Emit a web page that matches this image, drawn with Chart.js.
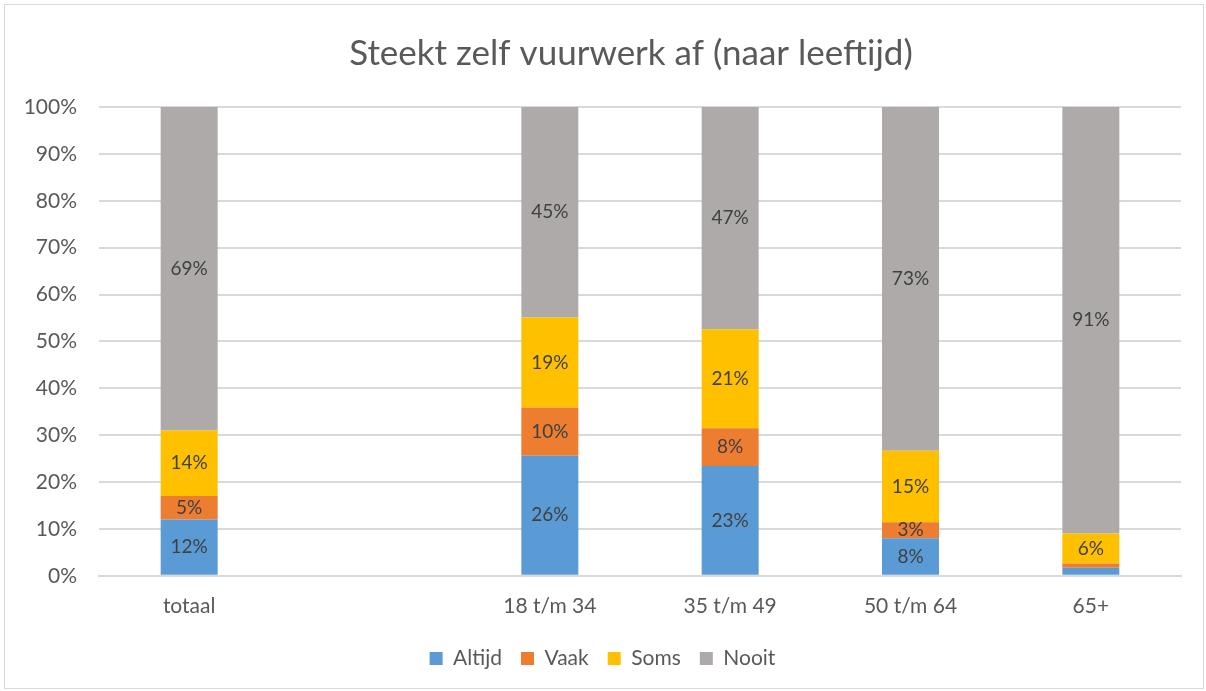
<!DOCTYPE html>
<html>
<head>
<meta charset="utf-8">
<script src="https://cdn.jsdelivr.net/npm/chart.js@4/dist/chart.umd.min.js"></script>
<style>
  body { margin: 0; background: #fff; }
  #box { position: absolute; left: 4px; top: 4px; width: 1198px; height: 683px; border: 1px solid #d9d9d9; }
</style>
</head>
<body>
<div id="box"><canvas id="myChart" width="1198" height="683"></canvas></div>
<script>
document.addEventListener("DOMContentLoaded", function(event) {

var title = "Steekt zelf vuurwerk af (naar leeftijd)";
var categories = ["totaal", "", "18 t/m 34", "35 t/m 49", "50 t/m 64", "65+"];
var altijd = [12, null, 25.6, 23.4, 8, 1.7];
var vaak   = [5, null, 10.3, 8.1, 3.4, 0.9];
var soms   = [14, null, 19.2, 21.1, 15.3, 6.4];
var nooit  = [69, null, 44.9, 47.4, 73.3, 91];
var yTicks = [0, 10, 20, 30, 40, 50, 60, 70, 80, 90, 100];

var font = "Lato";
var textColor = "#595959";

// draws the rounded value in the middle of each segment
var segmentLabels = {
    id: "segmentLabels",
    afterDatasetsDraw: function(chart) {
        var ctx = chart.ctx;
        ctx.save();
        ctx.font = "19px " + font;
        ctx.fillStyle = "#404040";
        ctx.textAlign = "center";
        ctx.textBaseline = "middle";
        chart.data.datasets.forEach(function(ds, i) {
            var meta = chart.getDatasetMeta(i);
            meta.data.forEach(function(bar, j) {
                var v = ds.data[j];
                if (v == null || v < 2.5) return;
                ctx.fillText(Math.round(v) + "%", bar.x, (bar.y + bar.base) / 2);
            });
        });
        ctx.restore();
    }
};

// title, sat a little left of the plot centre like the original
var chartTitle = {
    id: "chartTitle",
    afterDraw: function(chart) {
        var ctx = chart.ctx;
        var a = chart.chartArea;
        ctx.save();
        ctx.font = "35px " + font;
        ctx.fillStyle = textColor;
        ctx.textAlign = "center";
        ctx.textBaseline = "middle";
        ctx.fillText(title, (a.left + a.right) / 2 - 9, 49);
        ctx.restore();
    }
};

var ctx = document.getElementById("myChart");

var myChart = new Chart(ctx, {
    type: "bar",
    data: {
        labels: categories,
        datasets: [
            { label: "Altijd", data: altijd, backgroundColor: "#5B9BD5" },
            { label: "Vaak", data: vaak, backgroundColor: "#ED7D31" },
            { label: "Soms", data: soms, backgroundColor: "#FFC000" },
            { label: "Nooit", data: nooit, backgroundColor: "#AEAAAA" }
        ]
    },
    options: {
        responsive: false,
        animation: false,
        layout: { padding: { top: 102, left: 19, right: 22, bottom: 9 } },
        datasets: { bar: { categoryPercentage: 0.632, barPercentage: 0.5 } },
        scales: {
            x: {
                stacked: true,
                grid: { display: false },
                border: { color: "#d9d9d9", width: 2 },
                ticks: { color: textColor, font: { family: font, size: 21 }, padding: 10 }
            },
            y: {
                stacked: true,
                min: 0,
                max: 100,
                afterBuildTicks: function(axis) {
                    axis.ticks = yTicks.map(function(v) { return { value: v }; });
                },
                afterFit: function(axis) { axis.width = 75; },
                grid: { color: "#d9d9d9", lineWidth: 2, drawTicks: false },
                border: { display: false },
                ticks: {
                    color: textColor,
                    font: { family: font, size: 21 },
                    padding: 22,
                    callback: function(v) { return v + "%"; }
                }
            }
        },
        plugins: {
            title: { display: false },
            legend: {
                position: "bottom",
                labels: {
                    color: textColor,
                    font: { family: font, size: 21 },
                    boxWidth: 13,
                    boxHeight: 13,
                    padding: 19
                }
            },
            tooltip: { enabled: false }
        }
    },
    plugins: [segmentLabels, chartTitle]
});

});
</script>
</body>
</html>
